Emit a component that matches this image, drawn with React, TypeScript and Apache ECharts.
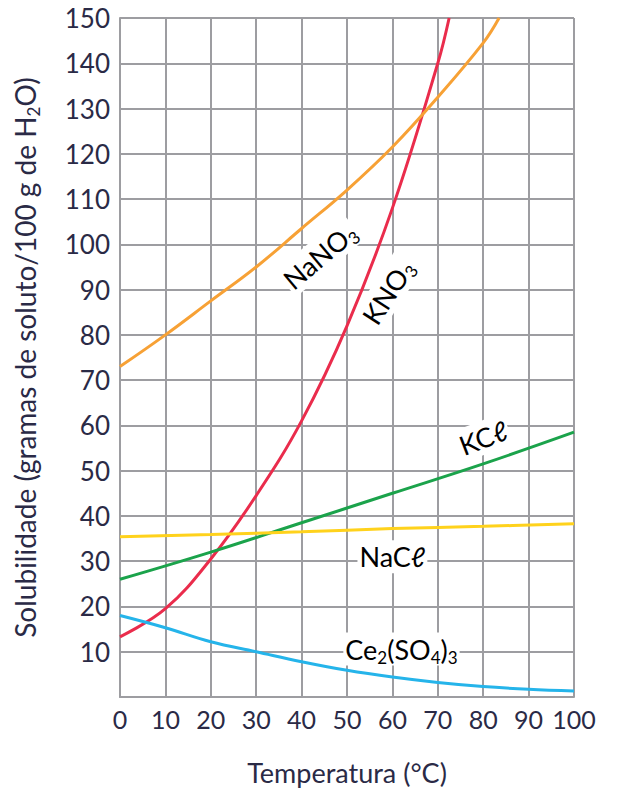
import React, { useEffect, useRef } from "react";
import * as echarts from "echarts";

// ---- data ----
const xTicks = [0, 10, 20, 30, 40, 50, 60, 70, 80, 90, 100];

const kno3T = [0, 10, 20, 30, 40, 50, 60, 70, 72.5];
const kno3V = [13.3, 19.5, 30.5, 44.5, 61, 82, 108, 140, 150];

const nano3T = [0, 10, 20, 30, 40, 50, 60, 70, 80, 83.5];
const nano3V = [73, 80, 87.5, 95, 103.5, 112, 121.5, 132.5, 144.5, 150];

const kclT = [0, 20, 40, 60, 80, 100];
const kclV = [26, 32, 38.5, 45, 51.5, 58.5];

const naclT = [0, 20, 40, 60, 80, 100];
const naclV = [35.4, 35.9, 36.5, 37.2, 37.7, 38.3];

const ceT = [0, 10, 20, 30, 40, 50, 60, 70, 80, 90, 100];
const ceV = [18, 15.3, 12.2, 10, 7.8, 5.9, 4.4, 3.2, 2.3, 1.7, 1.3];

const seriesNames = ["KNO3", "NaNO3", "KCl", "NaCl", "Ce2(SO4)3"];
const seriesColors = ["#ea2c4c", "#f7a135", "#1ba34b", "#ffd21c", "#25b4ea"];

// annotation labels: [T, value, rotation deg, rich text]
const labelT = [44, 59, 80, 60, 62];
const labelV = [97.5, 89.5, 57.3, 31, 10.6];
const labelRot = [40, 57, 21, 0, 0];
const labelText = [
  "{n|NaNO}{s|3}",
  "{n|KNO}{s|3}",
  "{n|KCℓ}",
  "{n|NaCℓ}",
  "{n|Ce}{s|2}{n|(SO}{s|4}{n|)}{s|3}",
];

const TEXT = "#2a2a46";
const GRID = "#9d9da1";
const FONT = "Lato";

const zip = (t: number[], v: number[]) => t.map((x, i) => [x, v[i]]);

export default function App() {
  const ref = useRef<HTMLDivElement>(null);
  useEffect(() => {
    if (!ref.current) return;
    const chart = echarts.init(ref.current, null, { renderer: "svg" });
    const rich = (size: number) => ({
      n: { fontSize: size, fontFamily: FONT, color: TEXT, lineHeight: size + 6, verticalAlign: "middle" },
      s: { fontSize: Math.round(size * 0.62), fontFamily: FONT, color: TEXT, lineHeight: Math.round(size * 0.62), verticalAlign: "bottom" },
    });
    const data = [zip(kno3T, kno3V), zip(nano3T, nano3V), zip(kclT, kclV), zip(naclT, naclV), zip(ceT, ceV)];
    chart.setOption({
      animation: false,
      grid: { left: 120, top: 18, right: 43, bottom: 93 },
      xAxis: {
        type: "value",
        min: 0,
        max: 100,
        interval: 10,
        data: xTicks,
        axisLine: { show: true, lineStyle: { color: GRID, width: 2 } },
        axisTick: { show: false },
        splitLine: { show: true, lineStyle: { color: GRID, width: 2 } },
        axisLabel: { color: TEXT, fontSize: 25, fontFamily: FONT, margin: 9 },
        name: "Temperatura (°C)",
        nameLocation: "middle",
        nameGap: 62,
        nameTextStyle: { color: TEXT, fontSize: 27, fontFamily: FONT },
      },
      yAxis: {
        type: "value",
        min: 0,
        max: 150,
        interval: 10,
        axisLine: { show: true, lineStyle: { color: GRID, width: 2 } },
        axisTick: { show: false },
        splitLine: { show: true, lineStyle: { color: GRID, width: 2 } },
        axisLabel: {
          color: TEXT,
          fontSize: 26,
          fontFamily: FONT,
          margin: 10,
          formatter: (v: number) => (v === 0 ? "" : String(v)),
        },
        name: "{n|Solubilidade (gramas de soluto/100 g de H}{s|2}{n|O)}",
        nameLocation: "middle",
        nameGap: 78,
        nameTextStyle: { rich: rich(28) },
      },
      series: data.map((d, i) => ({
        name: seriesNames[i],
        type: "line",
        data: d,
        smooth: 0.4,
        showSymbol: false,
        lineStyle: { color: seriesColors[i], width: 3 },
        z: 3,
      })),
    });
    const graphic = labelT.map((t, i) => {
      const p = chart.convertToPixel({ gridIndex: 0 }, [t, labelV[i]]) as number[];
      return {
        type: "text",
        x: p[0],
        y: p[1],
        rotation: (labelRot[i] * Math.PI) / 180,
        z: 10,
        style: {
          text: labelText[i],
          rich: rich(27),
          align: "center",
          verticalAlign: "middle",
          backgroundColor: "#ffffff",
          padding: [0, 2],
        },
      };
    });
    chart.setOption({ graphic });
    return () => chart.dispose();
  }, []);
  return <div ref={ref} style={{ position: "absolute", left: 0, top: 0, width: 617, height: 791 }} />;
}
